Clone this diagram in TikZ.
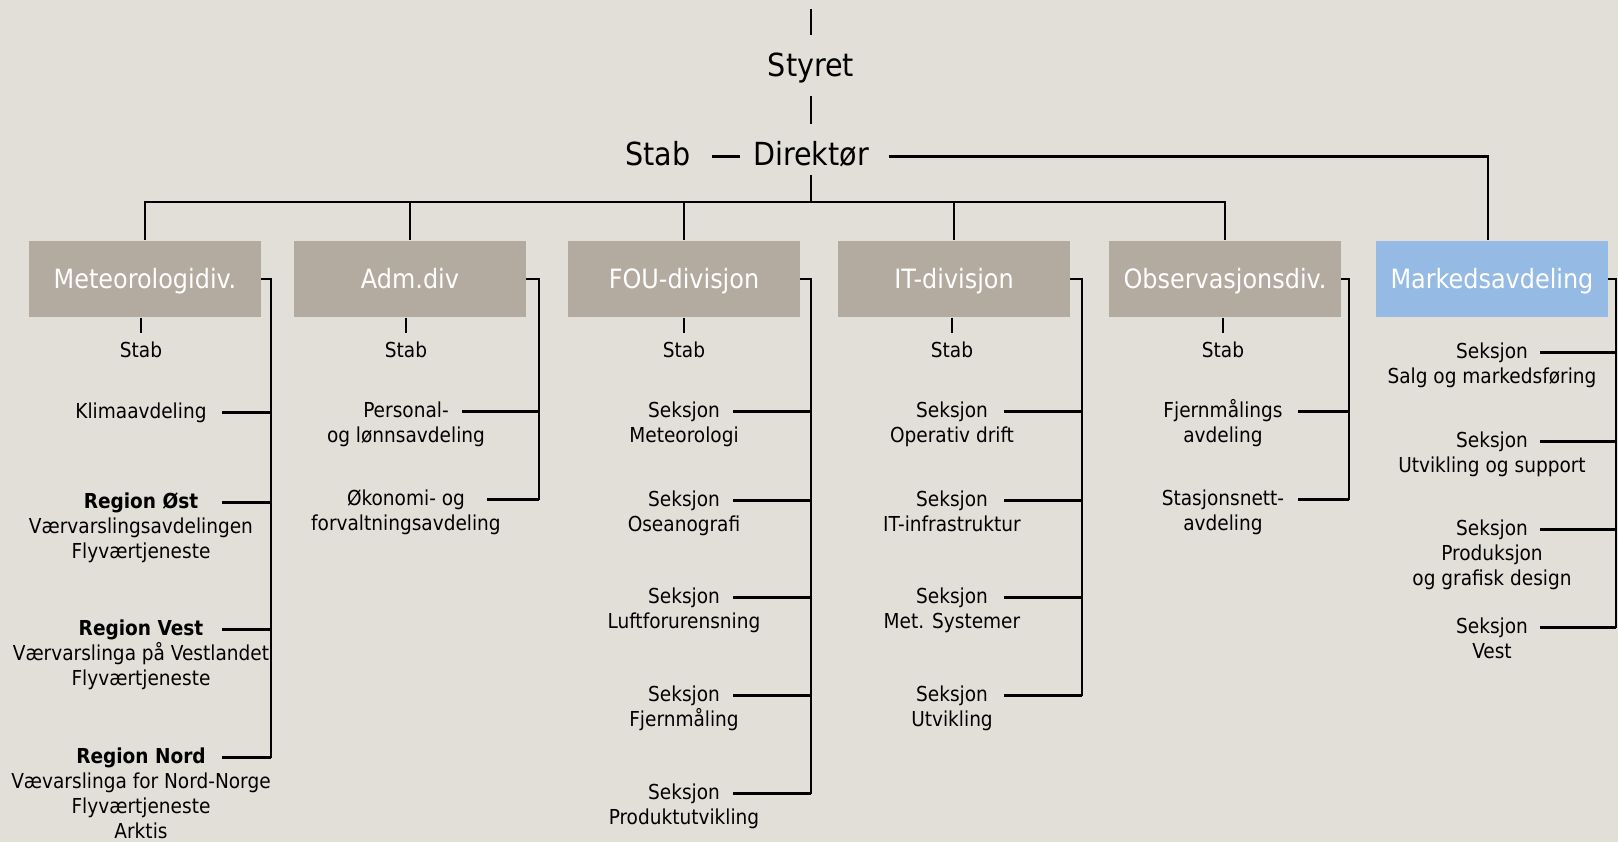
\documentclass[tikz,border=0pt]{standalone}
\usepackage{fontspec}
\setmainfont{DejaVu Sans Condensed}
\usetikzlibrary{positioning, calc}
\definecolor{chartbg}{RGB}{226,223,217}
\definecolor{divgray}{RGB}{179,170,160}
\definecolor{divblue}{RGB}{149,187,228}
\newcommand{\unitlines}[1]{\begin{tabular}[t]{@{}c@{}}#1\end{tabular}}
\tikzset{
    division/.style = {rectangle, inner sep=0pt, fill=divgray, text=white,
        minimum width=116pt, minimum height=38.3pt, text height=9.6pt,
        text depth=0pt, font=\fontsize{13.3}{16}\selectfont},
    market_div/.style = {division, fill=divblue},
    top_unit/.style = {inner sep=0pt, font=\fontsize{15.9}{19}\selectfont},
    unit/.style = {inner sep=0pt, anchor=base,
        font=\fontsize{10.3}{12.5}\selectfont},
    link/.style = {line width=1.25pt},
}

\begin{document}
\begin{tikzpicture}[x=0.5pt, y=-0.5pt]
    \fill[chartbg] (0,0) rectangle (1618,842);
    \useasboundingbox (0,0) rectangle (1618,842);

    % ledelse
    \coordinate (top) at (811,9);
    \node [top_unit, anchor=base] (styret) at (811,76) {Styret};
    \node [top_unit, anchor=base] (dir) at (811,165) {Direktør};
    \node [top_unit, base left=31pt of dir] (stab) {Stab};
    \coordinate (bus) at (811,202);

    % divisjoner
    \node [division] (met) at (145,279) {Meteorologidiv.};
    \node [division] (adm) at (410,279) {Adm.div};
    \node [division] (fou) at (684,279) {FOU-divisjon};
    \node [division] (itd) at (954,279) {IT-divisjon};
    \node [division] (obs) at (1225,279) {Observasjonsdiv.};
    \node [market_div] (mkt) at (1492,279) {Markedsavdeling};

    \draw [link, shorten >=8.3pt] (top) -- (styret.north);
    \draw [link, shorten <=6.7pt, shorten >=8pt] (styret) -- (dir);
    \draw [link, shorten <=10.5pt, shorten >=6.5pt]
        ([yshift=1.6pt]stab.mid east) -- ([yshift=1.6pt]dir.mid west);
    \draw [link, shorten <=10pt] ([yshift=1.6pt]dir.mid east) -| ([xshift=-2pt]mkt.north);
    \draw [link, shorten <=4pt] (dir) -- (bus);
    \draw [link] (met.north) |- (bus) -| (obs.north);
    \foreach \d in {adm, fou, itd}
        \draw [link] (\d.north) -- (\d.north |- bus);

    % stab under hver divisjon
    \node [unit] (met-stab) at (141,357) {\unitlines{Stab}};
    \node [unit] (adm-stab) at (406,357) {\unitlines{Stab}};
    \node [unit] (fou-stab) at (684,357) {\unitlines{Stab}};
    \node [unit] (itd-stab) at (952,357) {\unitlines{Stab}};
    \node [unit] (obs-stab) at (1223,357) {\unitlines{Stab}};
    \foreach \d in {met, adm, fou, itd, obs}
        \draw [link, shorten >=3.25pt] (\d-stab.north |- \d.south) -- (\d-stab.north);

    % Meteorologidiv.
    \coordinate (metv) at (271,0);
    \coordinate (mets) at (222,0);
    \foreach \n/\y/\txt in {met1/418/Klimaavdeling,
        met2/508/{\textbf{Region Øst}\\Værvarslingsavdelingen\\Flyværtjeneste},
        met3/635/{\textbf{Region Vest}\\Værvarslinga på Vestlandet\\Flyværtjeneste},
        met4/763/{\textbf{Region Nord}\\Vævarslinga for Nord-Norge\\Flyværtjeneste\\Arktis}} {
        \node [unit] (\n) at (141,\y) {\unitlines{\txt}};
        \draw [link] (\n.mid -| mets) -- (\n.mid -| metv);
    }
    \draw [link] (met.east) -| (met4.mid -| metv);

    % Adm.div
    \coordinate (admv) at (539,0);
    \coordinate (adms1) at (462,0);
    \coordinate (adms2) at (487,0);
    \node [unit] (adm1) at (406,417) {\unitlines{Personal-\\og lønnsavdeling}};
    \node [unit] (adm2) at (406,505) {\unitlines{Økonomi- og\\forvaltningsavdeling}};
    \draw [link] (adm1.mid -| adms1) -- (adm1.mid -| admv);
    \draw [link] (adm2.mid -| adms2) -- (adm2.mid -| admv);
    \draw [link] (adm.east) -| (adm2.mid -| admv);

    % FOU-divisjon
    \coordinate (fouv) at (811,0);
    \coordinate (fous) at (733,0);
    \foreach \n/\y/\txt in {fou1/417/{Seksjon\\Meteorologi},
        fou2/506/{Seksjon\\Oseanografi},
        fou3/603/{Seksjon\\Luftforurensning},
        fou4/701/{Seksjon\\Fjernmåling},
        fou5/799/{Seksjon\\Produktutvikling}} {
        \node [unit] (\n) at (684,\y) {\unitlines{\txt}};
        \draw [link] (\n.mid -| fous) -- (\n.mid -| fouv);
    }
    \draw [link] (fou.east) -| (fou5.mid -| fouv);

    % IT-divisjon
    \coordinate (itdv) at (1082,0);
    \coordinate (itds) at (1004,0);
    \foreach \n/\y/\txt in {itd1/417/{Seksjon\\Operativ drift},
        itd2/506/{Seksjon\\IT-infrastruktur},
        itd3/603/{Seksjon\\Met. Systemer},
        itd4/701/{Seksjon\\Utvikling}} {
        \node [unit] (\n) at (952,\y) {\unitlines{\txt}};
        \draw [link] (\n.mid -| itds) -- (\n.mid -| itdv);
    }
    \draw [link] (itd.east) -| (itd4.mid -| itdv);

    % Observasjonsdiv.
    \coordinate (obsv) at (1349,0);
    \coordinate (obss) at (1298,0);
    \foreach \n/\y/\txt in {obs1/417/{Fjernmålings\\avdeling},
        obs2/505/{Stasjonsnett-\\avdeling}} {
        \node [unit] (\n) at (1223,\y) {\unitlines{\txt}};
        \draw [link] (\n.mid -| obss) -- (\n.mid -| obsv);
    }
    \draw [link] (obs.east) -| (obs2.mid -| obsv);

    % Markedsavdeling
    \coordinate (mktv) at (1616,0);
    \coordinate (mkts) at (1540,0);
    \foreach \n/\y/\txt in {mkt1/358/{Seksjon\\Salg og markedsføring},
        mkt2/447/{Seksjon\\Utvikling og support},
        mkt3/535/{Seksjon\\Produksjon\\og grafisk design},
        mkt4/633/{Seksjon\\Vest}} {
        \node [unit] (\n) at (1492,\y) {\unitlines{\txt}};
        \draw [link] (\n.mid -| mkts) -- (\n.mid -| mktv);
    }
    \draw [link] (mkt.east) -| (mkt4.mid -| mktv);
\end{tikzpicture}
\end{document}
